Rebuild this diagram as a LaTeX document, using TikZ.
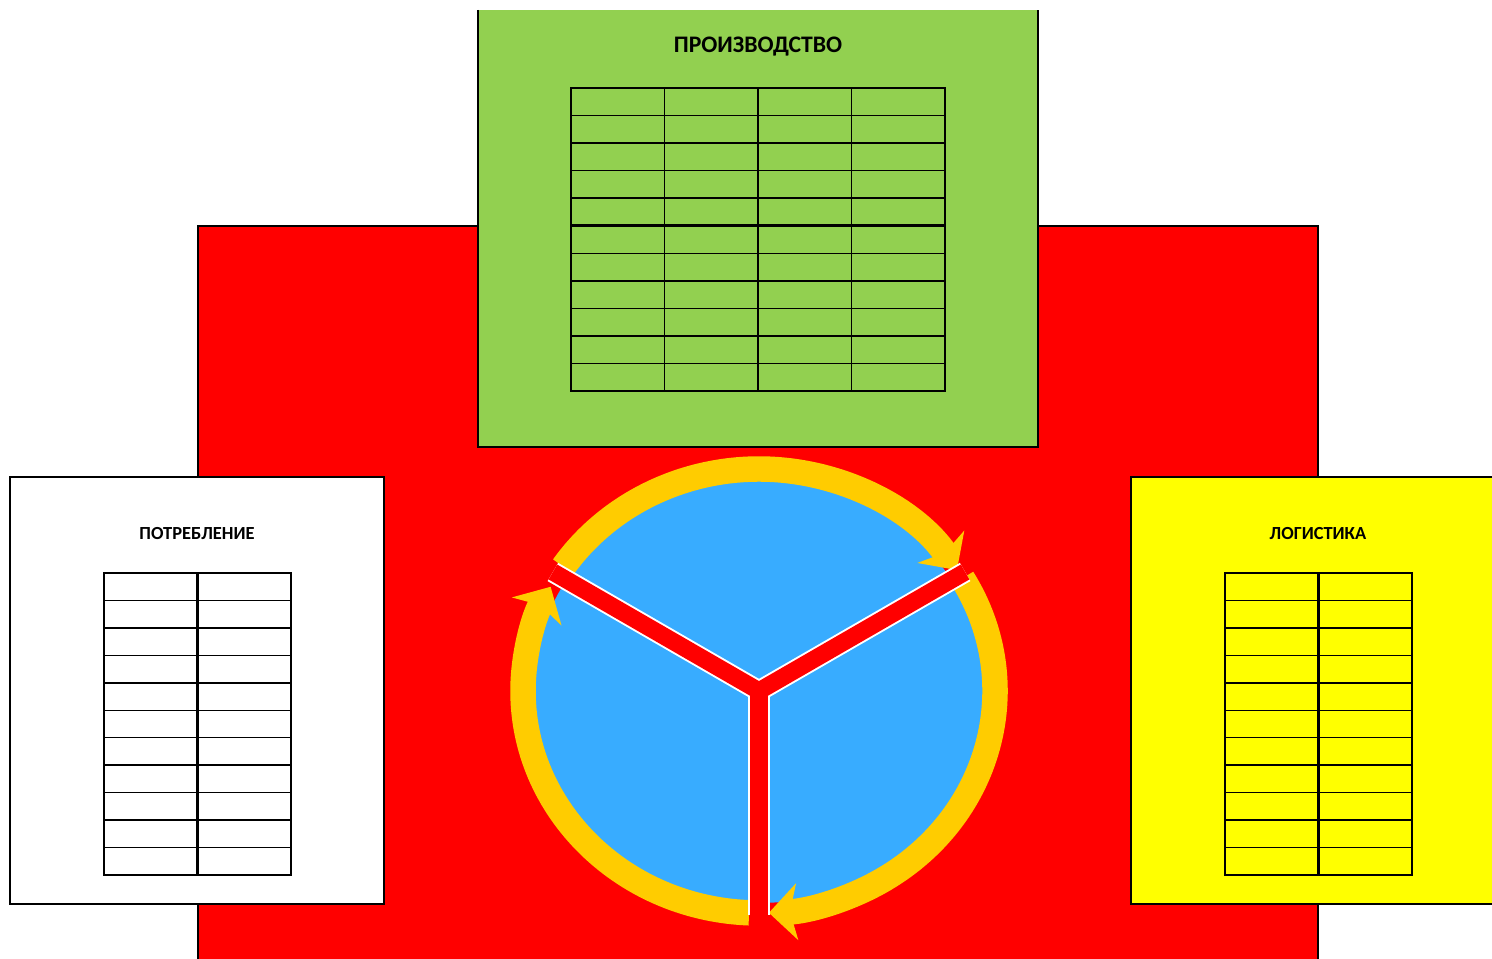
\documentclass[tikz,border=0pt]{standalone}
\usepackage{fontspec}
\setmainfont{Carlito}
\usetikzlibrary{arrows.meta}

\definecolor{rouge}{HTML}{FF0000}
\definecolor{vert}{HTML}{92D050}
\definecolor{jaune}{HTML}{FFFF00}
\definecolor{bleu}{HTML}{38ACFF}
\definecolor{ocre}{HTML}{FFCC00}

\tikzset{
  cadre/.style={draw=black, line width=1.2pt},
  fin/.style={draw=black, line width=0.8pt},
  epais/.style={draw=black, line width=1.6pt},
  titre/.style={font=\bfseries\fontsize{13.5}{16}\selectfont},
  soustitre/.style={font=\bfseries\fontsize{10.5}{12}\selectfont},
  fleche/.style={draw=ocre, line width=14.5pt, -{Stealth[length=16pt,width=32pt,inset=4pt]}},
}

\begin{document}
\begin{tikzpicture}[x=0.02cm,y=0.02cm]
\useasboundingbox (0,0) rectangle (1492,958);
\clip (0,0) rectangle (1492,958);

% Fond rouge
\filldraw[fill=rouge, cadre] (198,-10) rectangle (1318,732);

% Production
\fill[vert] (478,511) rectangle (1038,948);
\draw[cadre] (478,948) -- (478,511) -- (1038,511) -- (1038,948);
\node[titre] (prod) at (758,911) {ПРОИЗВОДСТВО};
\foreach \k in {1,...,10} \draw[fin] (571,{567+\k*27.545}) -- (945,{567+\k*27.545});
\draw[epais] (571,732.3) -- (945,732.3);
\foreach \k in {1,2,3} \draw[fin] ({571+\k*93.5},567) -- ({571+\k*93.5},870);
\draw[epais] (571,567) rectangle (945,870);

% Consommation et logistique
\filldraw[fill=white, cadre] (10,54) rectangle (384,481);
\node[soustitre] (conso) at (197,424) {ПОТРЕБЛЕНИЕ};
\filldraw[fill=jaune, cadre] (1131,54) rectangle (1520,481);
\node[soustitre] (logi) at (1318,424) {ЛОГИСТИКА};
\foreach \gx in {104,1225} {
  \foreach \k in {1,...,10} \draw[fin] (\gx,{83+\k*27.45}) -- ++(187,0);
  \draw[draw=black, line width=1.2pt] ({\gx+93.5},83) -- ++(0,302);
  \draw[epais] (\gx,83) rectangle ++(187,302);
}

% Cercle
\coordinate (c) at (759,267);
\fill[bleu] (c) ellipse[x radius=226, y radius=212];

% Fleches du cycle
\draw[fleche] (c) ++(146:236 and 222) arc[start angle=146, end angle=33, x radius=236, y radius=222];
\draw[fleche] (c) ++(30.5:236 and 222) arc[start angle=30.5, end angle=-87.6, x radius=236, y radius=222];
\draw[fleche] (c) ++(267.6:236 and 222) arc[start angle=267.6, end angle=152, x radius=236, y radius=222];

% Rayons
\foreach \a/\r in {150/238, 30/238, 270/224} \draw[white, line width=12pt] (c) -- ++(\a:\r);
\foreach \a/\r in {150/238, 30/238, 270/224} \draw[rouge, line width=9.8pt] (c) -- ++(\a:\r);

\end{tikzpicture}
\end{document}
